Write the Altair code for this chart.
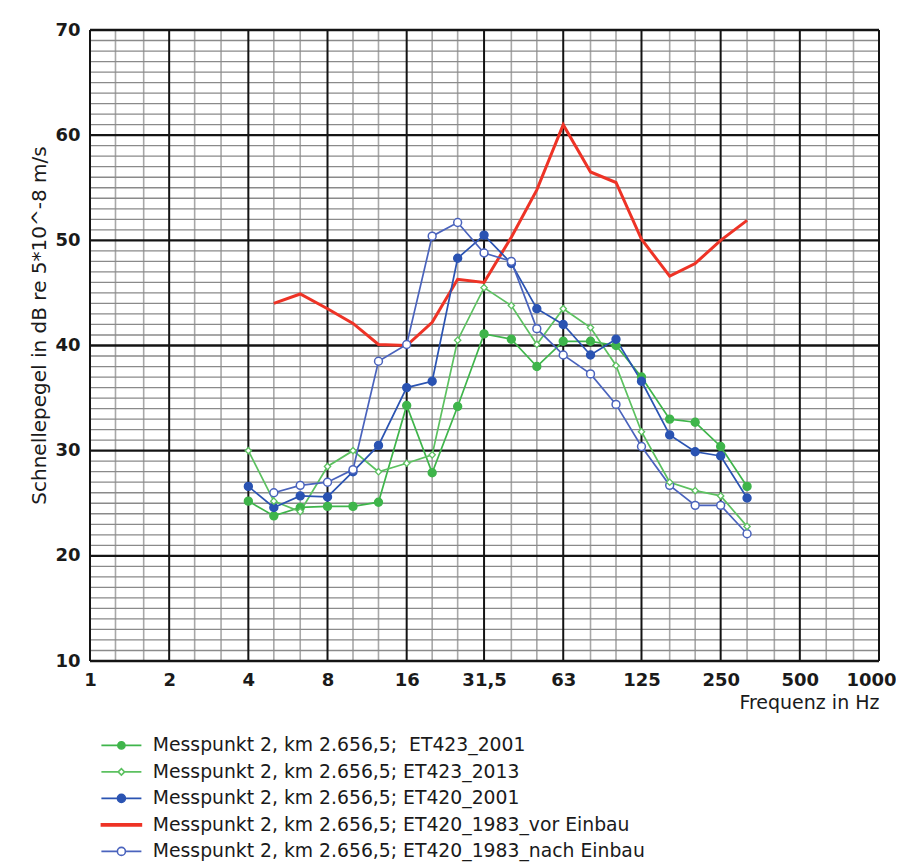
import altair as alt
import pandas as pd

# ---------------- data ----------------
bands = [4, 5, 6.3, 8, 10, 12.5, 16, 20, 25, 31.5, 40, 50, 63, 80, 100, 125, 160, 200, 250, 315]
bands_from5 = [5, 6.3, 8, 10, 12.5, 16, 20, 25, 31.5, 40, 50, 63, 80, 100, 125, 160, 200, 250, 315]

et423_2001 = [25.2, 23.8, 24.6, 24.7, 24.7, 25.1, 34.3, 27.9, 34.2, 41.1,
              40.6, 38.0, 40.4, 40.4, 40.0, 37.0, 33.0, 32.7, 30.4, 26.6]
et423_2013 = [30.0, 25.2, 24.2, 28.5, 30.0, 28.0, 28.8, 29.6, 40.5, 45.5,
              43.8, 40.1, 43.5, 41.7, 38.1, 31.8, 27.0, 26.2, 25.7, 22.8]
et420_2001 = [26.6, 24.6, 25.7, 25.6, 28.0, 30.5, 36.0, 36.6, 48.3, 50.5,
              47.8, 43.5, 42.0, 39.1, 40.6, 36.6, 31.5, 29.9, 29.5, 25.5]
et420_1983_vor = [44.0, 44.9, 43.5, 42.1, 40.1, 40.0, 42.2, 46.3, 46.0, 50.3,
                  54.8, 61.0, 56.5, 55.5, 50.1, 46.6, 47.8, 50.0, 51.9]
et420_1983_nach = [26.0, 26.7, 27.0, 28.2, 38.5, 40.1, 50.4, 51.7, 48.8, 48.0,
                   41.6, 39.1, 37.3, 34.4, 30.4, 26.7, 24.8, 24.8, 22.1]

series_names = [
    "Messpunkt 2, km 2.656,5;\u00a0 ET423_2001",
    "Messpunkt 2, km 2.656,5; ET423_2013",
    "Messpunkt 2, km 2.656,5; ET420_2001",
    "Messpunkt 2, km 2.656,5; ET420_1983_vor Einbau",
    "Messpunkt 2, km 2.656,5; ET420_1983_nach Einbau",
]

octave_ticks = [1, 2, 4, 8, 16, 31.5, 63, 125, 250, 500, 1000]
third_octave_minor = [1.25, 1.6, 2.5, 3.15, 5, 6.3, 10, 12.5, 20, 25, 40, 50,
                      80, 100, 160, 200, 315, 400, 630, 800]
db_major = [10, 20, 30, 40, 50, 60, 70]
db_minor = [v for v in range(11, 70) if v % 10 != 0]

# ---------------- styles ----------------
colors = ["#3fb54b", "#5cc160", "#2a53b2", "#ee3326", "#4a63bd"]
fills = ["#3fb54b", "white", "#2a53b2", "#ee3326", "white"]
legend_paths = [
    "M-2.5,0 H-0.45 M0.45,0 H2.5 M-0.45,0 A0.45,0.45 0 1,1 0.45,0 A0.45,0.45 0 1,1 -0.45,0 Z",
    "M-2.5,0 H-0.4 M0.4,0 H2.5 M-0.4,0 L0,-0.4 L0.4,0 L0,0.4 Z",
    "M-2.5,0 H-0.5 M0.5,0 H2.5 M-0.5,0 A0.5,0.5 0 1,1 0.5,0 A0.5,0.5 0 1,1 -0.5,0 Z",
    "M-2.5,-0.13 H2.5 V0.13 H-2.5 Z",
    "M-2.5,0 H-0.5 M0.5,0 H2.5 M-0.5,0 A0.5,0.5 0 1,1 0.5,0 A0.5,0.5 0 1,1 -0.5,0 Z",
]

rows = []
for name, xs, ys in zip(series_names,
                        [bands, bands, bands, bands_from5, bands_from5],
                        [et423_2001, et423_2013, et420_2001, et420_1983_vor, et420_1983_nach]):
    for f, v in zip(xs, ys):
        rows.append({"s": name, "f": f, "v": v})
df = pd.DataFrame(rows)

FONT = "DejaVu Sans"
TXT = "#1a1a1a"
xscale = alt.Scale(type="log", domain=[1, 1000], nice=False)
yscale = alt.Scale(domain=[10, 70], nice=False, zero=False)
color_scale = alt.Scale(domain=series_names, range=colors)
fill_scale = alt.Scale(domain=series_names, range=fills)
shape_scale = alt.Scale(domain=series_names, range=legend_paths)

x_axis = alt.Axis(values=octave_ticks, grid=False, ticks=False, domain=False,
                  labelExpr="replace(format(datum.value, ''), '.', ',')",
                  labelFontSize=18, labelFontWeight="bold", labelColor=TXT,
                  labelPadding=10, labelFont=FONT, labelFlush=False,
                  labelAlign={"condition": {"test": "datum.value >= 1000", "value": "right"},
                              "value": "center"},
                  labelOffset={"condition": {"test": "datum.value >= 1000", "value": 17},
                               "value": 0},
                  title="Frequenz in Hz", titleAnchor="end", titleFontSize=19,
                  titleFontWeight="normal", titleColor=TXT, titleFont=FONT,
                  titlePadding=4)
y_axis = alt.Axis(values=db_major, grid=False, ticks=False, domain=False,
                  labelFontSize=18, labelFontWeight="bold", labelColor=TXT,
                  labelPadding=10, labelFont=FONT,
                  title="Schnellepegel in dB re 5*10^-8 m/s", titleFontSize=20,
                  titleFontWeight="normal", titleColor=TXT, titleFont=FONT,
                  titlePadding=5, titleY=295)

legend_def = dict(orient="none", legendX=22, legendY=706, title=None, padding=0,
                  symbolSize=256, labelOffset=22, rowPadding=6.5, labelLimit=800,
                  labelFontSize=18.8, labelFont=FONT, labelColor=TXT,
                  symbolOpacity=1, symbolStrokeWidth=1.6)


def leg():
    return alt.Legend(**legend_def)


X = alt.X("f:Q", scale=xscale, axis=x_axis)
Y = alt.Y("v:Q", scale=yscale, axis=y_axis)

minor_v = alt.Chart(pd.DataFrame({"f": third_octave_minor})).mark_rule(
    color="#a8a8a8", strokeWidth=1.6).encode(x=X)
minor_h = alt.Chart(pd.DataFrame({"v": db_minor})).mark_rule(
    color="#8a8a8a", strokeWidth=1.3).encode(y=Y)
major_v = alt.Chart(pd.DataFrame({"f": octave_ticks})).mark_rule(
    color="#141414", strokeWidth=2).encode(x=X)
major_h = alt.Chart(pd.DataFrame({"v": db_major})).mark_rule(
    color="#141414", strokeWidth=2.4).encode(y=Y)

thin_lines = alt.Chart(df).transform_filter(
    alt.FieldOneOfPredicate(field="s", oneOf=[series_names[0], series_names[1], series_names[2], series_names[4]])
).mark_line(strokeWidth=1.7).encode(
    x=X, y=Y, color=alt.Color("s:N", scale=color_scale, legend=leg()))

red_line = alt.Chart(df).transform_filter(
    alt.FieldEqualPredicate(field="s", equal=series_names[3])
).mark_line(strokeWidth=3).encode(
    x=X, y=Y, color=alt.Color("s:N", scale=color_scale, legend=leg()))

circles = alt.Chart(df).transform_filter(
    alt.FieldOneOfPredicate(field="s", oneOf=[series_names[0], series_names[2], series_names[4]])
).mark_point(shape="circle", size=62, opacity=1, filled=False, strokeWidth=1.5).encode(
    x=X, y=Y,
    color=alt.Color("s:N", scale=color_scale, legend=leg()),
    fill=alt.Fill("s:N", scale=fill_scale, legend=leg()),
)

diamonds = alt.Chart(df).transform_filter(
    alt.FieldEqualPredicate(field="s", equal=series_names[1])
).mark_point(shape="diamond", size=40, opacity=1, filled=False, strokeWidth=1.3).encode(
    x=X, y=Y,
    color=alt.Color("s:N", scale=color_scale, legend=leg()),
    fill=alt.Fill("s:N", scale=fill_scale, legend=leg()),
)

legend_layer = alt.Chart(df).transform_filter("false").mark_point(
    filled=False, opacity=1).encode(
    x=X, y=Y,
    color=alt.Color("s:N", scale=color_scale, legend=leg()),
    fill=alt.Fill("s:N", scale=fill_scale, legend=leg()),
    shape=alt.Shape("s:N", scale=shape_scale, legend=leg()),
)

chart = alt.layer(minor_v, minor_h, major_v, major_h, red_line, thin_lines,
                  circles, diamonds, legend_layer).properties(
    width=789, height=631,
    padding={"left": 21, "top": 13, "right": 0, "bottom": 5},
    background="white",
).configure_view(stroke=None)

chart.save("out.html", embed_options={"renderer": "svg", "actions": False})
